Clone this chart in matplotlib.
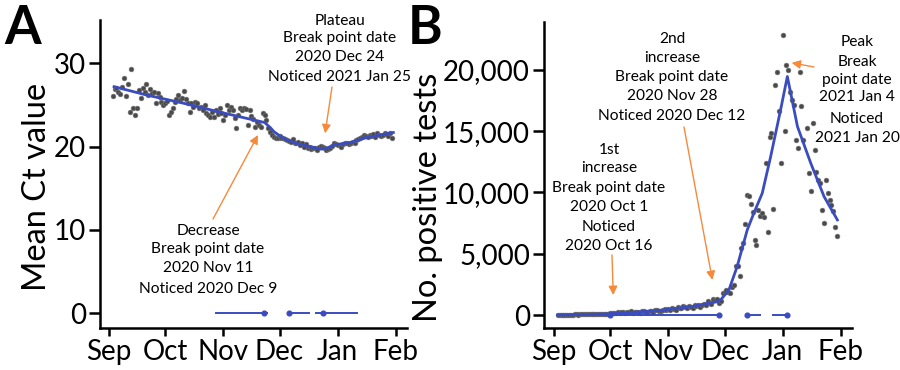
import numpy as np
import pandas as pd
import matplotlib
matplotlib.use("Agg")
import matplotlib.pyplot as plt

plt.rcParams['font.family'] = ['Lato', 'DejaVu Sans']

# ---------------- data ----------------
start_date = "2020-09-03"
ct_values = [
    26.1, 26.9, 27.0, 26.6, 26.3, 27.2, 28.2, 26.1, 27.5, 24.2,
    29.3, 24.6, 23.8, 24.7, 26.8, 25.9, 27.0, 26.6, 27.5, 26.2,
    26.9, 26.4, 26.6, 25.3, 26.5, 26.0, 25.4, 25.0, 25.2, 25.5,
    23.8, 24.2, 24.6, 25.4, 25.7, 26.2, 25.6, 25.8, 26.7, 25.7,
    25.2, 24.2, 25.3, 24.8, 25.4, 25.2, 24.6, 24.8, 24.4, 25.0,
    24.0, 23.8, 23.6, 24.2, 23.6, 24.4, 23.9, 24.6, 24.0, 23.2,
    23.8, 25.0, 24.4, 24.8, 24.4, 23.5, 22.2, 23.8, 24.6, 24.4,
    24.6, 24.5, 22.6, 24.4, 23.7, 23.3, 22.4, 23.0, 22.6, 22.4,
    24.0, 23.8, 23.2, 22.2, 21.8, 21.4, 21.2, 21.1, 21.0,
    21.3, 21.0, 21.0, 20.9, 20.8, 20.7, 20.6, 20.9, 20.5, 20.4,
    20.6, 20.2, 20.4, 20.0, 20.3, 19.8, 20.0, 19.7, 19.9, 19.8,
    19.6, 20.0, 20.1, 20.0, 19.8, 19.6, 19.7, 19.8, 20.1, 20.5,
    20.3, 20.2, 20.2, 20.0, 20.3, 20.4, 20.4, 20.3, 20.5, 20.6,
    20.4, 20.8, 20.9, 21.0, 21.2, 21.4, 21.3, 21.2, 21.4, 21.3,
    21.5, 21.2, 21.6, 21.4, 21.3, 21.4, 21.6, 21.5, 21.3, 21.6,
    21.1,
]
positive_tests = [
    10, 20, 15, 30, 25, 20, 40, 35, 30, 45,
    50, 40, 60, 55, 45, 70, 65, 60, 80, 75,
    70, 95, 90, 85, 110, 100, 95, 120,
    150, 200, 140, 180, 230, 160, 210, 250, 190, 270,
    230, 300, 170, 220, 280, 250, 200, 310, 330, 280,
    260, 350, 300, 240, 380, 420, 330, 290, 400, 450, 370,
    480, 420, 560, 500, 430, 620, 580, 540, 700, 650,
    600, 760, 690, 560, 800, 740, 820, 650, 840, 900,
    780, 1170, 950, 880, 1300, 1250, 1300, 1000, 1180, 1820,
    1900, 2040, 1850, 1770, 2310, 2450, 4000, 4030, 3180, 5440,
    5900, 7430, 9800, 9710, 9060, 8440, 6120, 5710, 8570, 8080,
    8350, 7970, 12430, 6800, 14560, 14880, 8630, 18780, 19860, 16600,
    12430, 22860, 14970, 20410, 20000, 18230, 17550, 17140, 14290, 13660,
    19860, 17010, 14290, np.nan, 15240, 11570, 10150, 15650, 13420, 11700,
    11020, 10750, 8570, 7480, 11050, 9930, 9390, 8980, 8520, 7210, 6480,
]

# fitted trend (days since 2020-09-01, value)
fit_a_days = [2.7, 20, 40, 60, 83, 86, 88, 93, 100, 107, 113.5, 116, 120, 128.6, 137.5, 151.7]
fit_a_vals = [27.2, 26.2, 25.2, 24.1, 22.9, 22.3, 21.8, 21.0, 20.4, 20.0, 19.7, 19.8, 20.2, 20.5, 21.1, 21.7]
fit_b_days = [2, 28, 55, 73, 87, 89, 93.3, 97.7, 103.1, 106.6, 111.1, 115.6, 120.9, 124.5, 129.9, 137, 144.1, 151.2]
fit_b_vals = [0, 80, 350, 680, 1085, 1250, 2040, 3946, 6939, 8300, 9932, 12925, 16735, 19456, 15374, 12380, 9660, 7755]

# break point intervals (days since 2020-09-01)
ci_a_segments = [(57.2, 84.5), (96, 106.7), (110.5, 132.4)]
ci_a_points = [82.7, 96, 114.2]
ci_b_segments = [(1.8, 87.9), (103, 110), (117, 124.5)]
ci_b_points = [30, 87.9, 103, 124.5]

month_labels = ["Sep", "Oct", "Nov", "Dec", "Jan", "Feb"]
month_starts = ["2020-09-01", "2020-10-01", "2020-11-01", "2020-12-01", "2021-01-01", "2021-02-01"]

# ---------------- figure ----------------
W, H = 900, 370
fig = plt.figure(figsize=(W / 100, H / 100), dpi=100)

def px_rect(l, t, r, b):
    return [l / W, 1 - b / H, (r - l) / W, (b - t) / H]

axA = fig.add_axes(px_rect(100, 20, 407, 328))
axB = fig.add_axes(px_rect(544, 22, 852, 328))

origin = pd.Timestamp("2020-09-01")
def d(x):
    return origin + pd.to_timedelta(np.asarray(x, dtype=float), unit="D")

BLUE = "#3A4CC0"
ORANGE = "#F58A3C"
PT = "#4a4a4a"

dates_a = pd.date_range(start_date, periods=len(ct_values), freq="D")
dates_b = pd.date_range(start_date, periods=len(positive_tests), freq="D")

for ax, dates, vals, fd, fv, segs, pts in [
    (axA, dates_a, ct_values, fit_a_days, fit_a_vals, ci_a_segments, ci_a_points),
    (axB, dates_b, positive_tests, fit_b_days, fit_b_vals, ci_b_segments, ci_b_points),
]:
    ax.scatter(dates, vals, s=12, color=PT, edgecolor="#777777", linewidth=0.4, zorder=2)
    ax.plot(d(fd), fv, color=BLUE, lw=2.0, zorder=3)
    for a, b in segs:
        ax.plot(d([a, b]), [0, 0], color=BLUE, lw=1.4, zorder=3)
    ax.plot(d(pts), np.zeros(len(pts)), "o", color=BLUE, ms=3.4, zorder=4)

    ax.set_xlim(d(-4.8), d(159))
    ax.set_xticks(pd.to_datetime(month_starts))
    ax.set_xticklabels(month_labels)
    for s in ["top", "right"]:
        ax.spines[s].set_visible(False)
    for s in ["left", "bottom"]:
        ax.spines[s].set_linewidth(1.8)
    ax.tick_params(axis="both", labelsize=20, width=1.8)
    ax.tick_params(axis="x", length=6, pad=2)
    ax.tick_params(axis="y", length=8, pad=2)

axA.set_ylim(-1.76, 35.2)
axA.set_yticks([0, 10, 20, 30])
axA.set_ylabel("Mean Ct value", fontsize=23.5)
axA.yaxis.set_label_coords(-0.205, 0.458)
axA.yaxis.label.set_va("center")

axB.set_xlim(d(-5.35), d(159))
axB.set_ylim(-1060, 23900)
axB.set_yticks([0, 5000, 10000, 15000, 20000])
axB.set_yticklabels(["0", "5,000", "10,000", "15,000", "20,000"])
axB.set_ylabel("No. positive tests", fontsize=23.5)
axB.yaxis.set_label_coords(-0.378, 0.428)
axB.yaxis.label.set_va("center")

fig.text(4 / W, 1 - 4 / H, "A", fontsize=38, fontweight="bold", va="top", ha="left")
fig.text(408 / W, 1 - 4 / H, "B", fontsize=38, fontweight="bold", va="top", ha="left")

def block(x, ys, lines):
    for y, t in zip(ys, lines):
        fig.text(x / W, 1 - y / H, t, fontsize=11.2, ha="center", va="center")

block(340, [21, 38, 57, 77], ["Plateau", "Break point date", "2020 Dec 24", "Noticed 2021 Jan 25"])
block(208, [231, 249, 268, 289], ["Decrease", "Break point date", "2020 Nov 11", "Noticed 2020 Dec 9"])
block(672, [39, 58, 77, 96, 116], ["2nd", "increase", "Break point date", "2020 Nov 28", "Noticed 2020 Dec 12"])
block(609, [150, 168, 188, 207, 227, 246], ["1st", "increase", "Break point date", "2020 Oct 1", "Noticed", "2020 Oct 16"])
block(857, [42, 62, 80, 97, 119, 138], ["Peak", "Break", "point date", "2021 Jan 4", "Noticed", "2021 Jan 20"])

def arrow(ax, tip_day, tip_val, tail_px):
    ax.annotate("", xy=(d(tip_day), tip_val), xycoords="data",
                xytext=(tail_px[0], H - tail_px[1]), textcoords="figure pixels",
                arrowprops=dict(arrowstyle="-|>", color=ORANGE, lw=1.0,
                                mutation_scale=13, shrinkA=0, shrinkB=0),
                annotation_clip=False)

arrow(axA, 115.3, 21.6, (332, 87))
arrow(axA, 79.5, 21.4, (213, 219))
arrow(axB, 84.5, 2857, (684, 127))
arrow(axB, 31.6, 1630, (612, 255))
arrow(axB, 126.8, 20570, (814, 67))

fig.savefig("out.png", dpi=100)
